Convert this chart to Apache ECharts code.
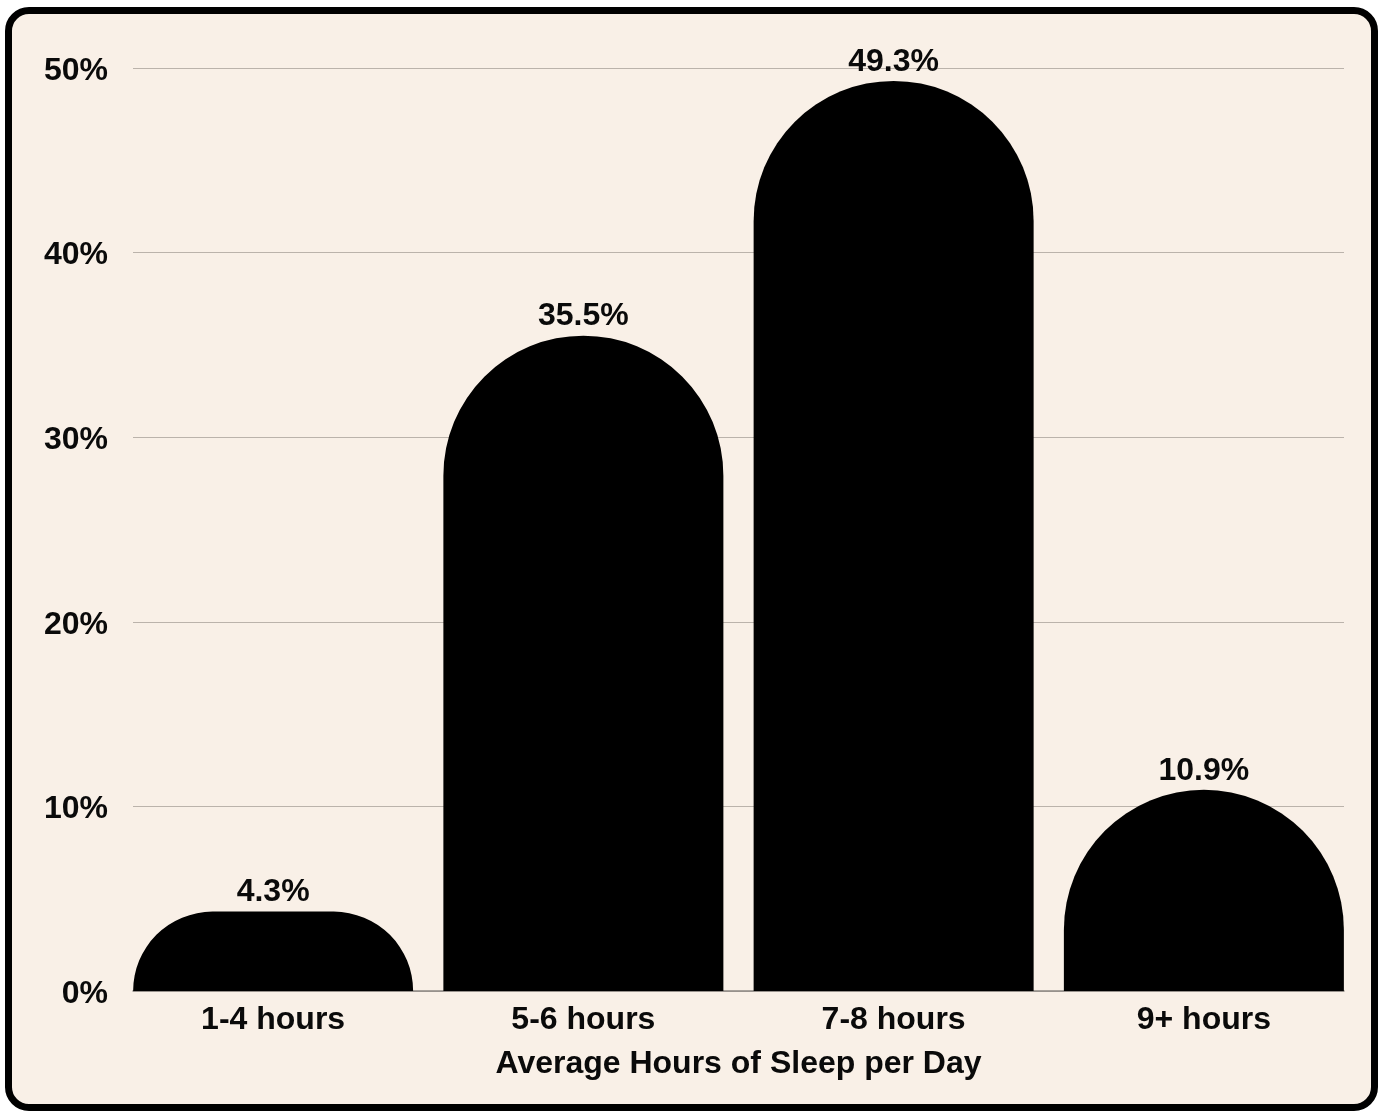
<!DOCTYPE html>
<html>
<head>
<meta charset="utf-8">
<script src="https://cdn.jsdelivr.net/npm/echarts@6/dist/echarts.min.js"></script>
<style>
  html, body { margin: 0; padding: 0; background: #ffffff; }
  #frame {
    position: absolute; left: 5px; top: 7px; width: 1373px; height: 1104px;
    box-sizing: border-box; border: 7px solid #000; border-radius: 24px;
    background: #f9f0e7;
  }
  #chart { position: absolute; left: 0; top: 0; width: 1382px; height: 1112px; }
</style>
</head>
<body>
<div id="frame"></div>
<div id="chart"></div>
<script>
var categories = ['1-4 hours', '5-6 hours', '7-8 hours', '9+ hours']
var sleepShare = [4.3, 35.5, 49.3, 10.9]
var yTicks = { min: 0, max: 50, interval: 10 }

var myChart = echarts.init(document.getElementById('chart'), null, { renderer: 'canvas' })

var font = 'Liberation Sans, Arial, sans-serif'

var option = {
    backgroundColor: 'transparent',
    animation: false,
    grid: [
        // grid for the value axis and gridlines
        { left: 133, right: 38, top: 68, bottom: 121 },
        // grid for the bars, a bit wider so outer bars are flush with gridlines
        { left: 118, right: 23, top: 68, bottom: 121 }
    ],
    xAxis: [
        {
            gridIndex: 0,
            type: 'category',
            data: categories,
            axisLine: { show: true, lineStyle: { color: '#8c8782', width: 1.5 } },
            axisTick: { show: false },
            axisLabel: { show: false }
        },
        {
            gridIndex: 1,
            type: 'category',
            data: categories,
            axisLine: { show: false },
            axisTick: { show: false },
            axisLabel: {
                margin: 13,
                color: '#0a0a0a',
                fontFamily: font,
                fontWeight: 'bold',
                fontSize: 32
            },
            name: 'Average Hours of Sleep per Day',
            nameLocation: 'middle',
            nameGap: 57,
            nameTextStyle: {
                color: '#0a0a0a',
                fontFamily: font,
                fontWeight: 'bold',
                fontSize: 32
            }
        }
    ],
    yAxis: [
        {
            gridIndex: 0,
            type: 'value',
            min: yTicks.min,
            max: yTicks.max,
            interval: yTicks.interval,
            axisLine: { show: false },
            axisTick: { show: false },
            splitLine: { lineStyle: { color: '#bbb3ab', width: 1.2 } },
            axisLabel: {
                formatter: '{t|{value}%}',
                margin: 25,
                rich: {
                    t: {
                        padding: [6, 0, 0, 0],
                        color: '#0a0a0a',
                        fontFamily: font,
                        fontWeight: 'bold',
                        fontSize: 32
                    }
                }
            }
        },
        {
            gridIndex: 1,
            type: 'value',
            min: yTicks.min,
            max: yTicks.max,
            interval: yTicks.interval,
            show: false
        }
    ],
    series: [
        {
            type: 'bar',
            xAxisIndex: 1,
            yAxisIndex: 1,
            data: sleepShare,
            barWidth: 280,
            itemStyle: {
                color: '#000',
                borderRadius: [140, 140, 0, 0]
            },
            label: {
                show: true,
                position: 'top',
                distance: 3,
                formatter: '{c}%',
                color: '#0a0a0a',
                fontFamily: font,
                fontWeight: 'bold',
                fontSize: 32
            }
        }
    ]
}

myChart.setOption(option)
</script>
</body>
</html>
